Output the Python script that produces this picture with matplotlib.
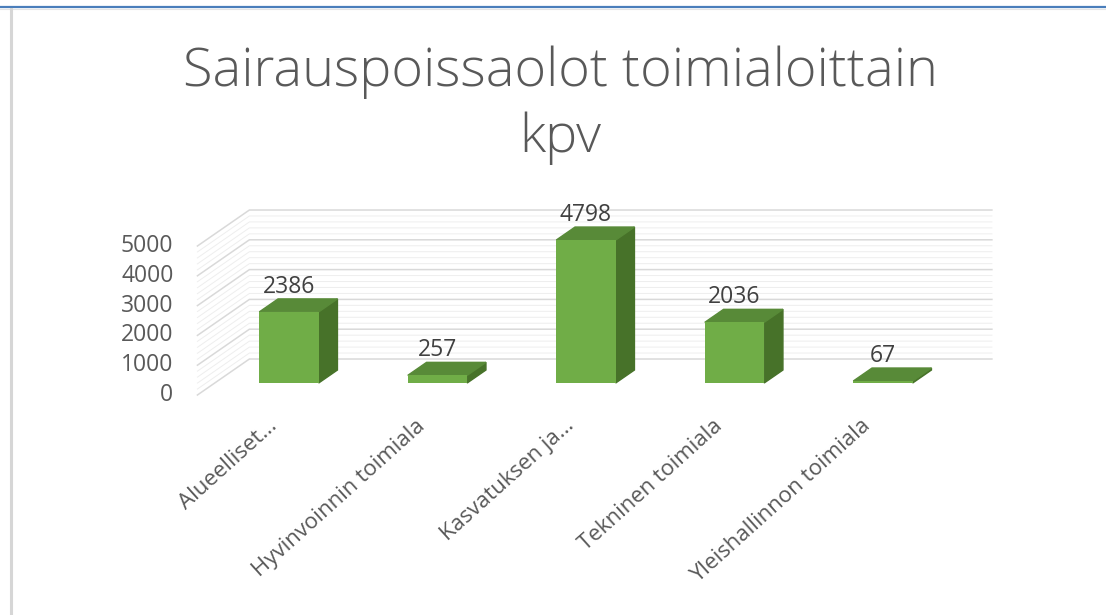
import numpy as np
import matplotlib
matplotlib.use('Agg')
import matplotlib.pyplot as plt
from matplotlib.patches import Polygon
from matplotlib.lines import Line2D

# Data
categories = ["Alueelliset…", "Hyvinvoinnin toimiala", "Kasvatuksen ja…",
              "Tekninen toimiala", "Yleishallinnon toimiala"]
values = [2386, 257, 4798, 2036, 67]
y_ticks = [0, 1000, 2000, 3000, 4000, 5000]
minor_step = 200
title_lines = ["Sairauspoissaolot toimialoittain", "kpv"]

plt.rcParams['font.family'] = ['Open Sans', 'DejaVu Sans']

# Colours
front_c = '#70ad47'
top_c = '#588a38'
side_c = '#477229'
text_c = '#595959'
label_c = '#404040'

# Oblique "3D" projection: depth z runs from 0 (front of floor) to 1 (back wall)
DEPTH_X = 0.35     # category units per unit depth
DEPTH_Y = 1208.0   # value units per unit depth
Z_FRONT = 1 / 3    # front face of the columns
Z_BACK = 0.694     # back face of the columns
BAR_W = 0.4


def proj(i, v, z):
    return i + DEPTH_X * (z - Z_FRONT), v + DEPTH_Y * (z - Z_FRONT)


W, H = 1106, 615
px_per_cat = 148.5
px_per_val = 0.0298
x0_px, y0_px = 289, 383

fig = plt.figure(figsize=(W / 100, H / 100), dpi=100)
ax = fig.add_axes([0, 0, 1, 1])
ax.set_xlim(-x0_px / px_per_cat, (W - x0_px) / px_per_cat)
ax.set_ylim(-(H - y0_px) / px_per_val, y0_px / px_per_val)
ax.axis('off')

n = len(values)
x = np.arange(n)

# wall gridlines (left wall + back wall)
for v in range(0, y_ticks[-1] + 1, minor_step):
    major = v % 1000 == 0
    pts = [proj(-0.5, v, 0), proj(-0.5, v, 1), proj(n - 0.5, v, 1)]
    xs, ys = zip(*pts)
    ax.plot(xs, ys, color='#d9d9d9' if major else '#eeeeee',
            lw=1.1 if major else 0.7, zorder=1 if major else 0.5)

# columns: front face via bar(), side and top faces as polygons
ax.bar(x, values, width=BAR_W, color=front_c, zorder=4)
for i, v in zip(x, values):
    l, r = i - BAR_W / 2, i + BAR_W / 2
    side = [proj(r, 0, Z_FRONT), proj(r, v, Z_FRONT), proj(r, v, Z_BACK), proj(r, 0, Z_BACK)]
    top = [proj(l, v, Z_FRONT), proj(r, v, Z_FRONT), proj(r, v, Z_BACK), proj(l, v, Z_BACK)]
    ax.add_patch(Polygon(side, closed=True, color=side_c, zorder=3))
    ax.add_patch(Polygon(top, closed=True, color=top_c, zorder=3))
    ax.text(i, proj(i, v, Z_BACK)[1] + 6 / px_per_val, f"{v}",
            ha='center', va='baseline', fontsize=16.5, color=label_c, zorder=5)

# value axis labels at the front edge of the left wall
for v in y_ticks:
    xw, yw = proj(-0.5, v, 0)
    ax.text(xw - 24 / px_per_cat, yw, str(v), ha='right', va='center',
            fontsize=16.5, color=text_c)

# category labels
for i, name in enumerate(categories):
    ax.text(i - 15 / px_per_cat, -(423 - y0_px) / px_per_val, name,
            rotation=42, rotation_mode='anchor', ha='right', va='center',
            fontsize=16, color=text_c)

# title
fig.text(0.507, 1 - 86 / H, title_lines[0], ha='center', va='baseline',
         fontsize=39, color=text_c, fontweight='light')
fig.text(0.507, 1 - 152 / H, title_lines[1], ha='center', va='baseline',
         fontsize=39, color=text_c, fontweight='light')

# window frame
fig.add_artist(Line2D([0, 1], [1 - 6.7 / H] * 2, color='#4a7ebb', lw=1.6))
fig.add_artist(Line2D([0, 1], [1 - 9 / H] * 2, color='#e4e4e4', lw=0.8))
fig.add_artist(Line2D([10.5 / W] * 2, [0, 1 - 8.5 / H], color='#d6d6d6', lw=2.2))

fig.savefig('out.png', dpi=100, facecolor='white')
